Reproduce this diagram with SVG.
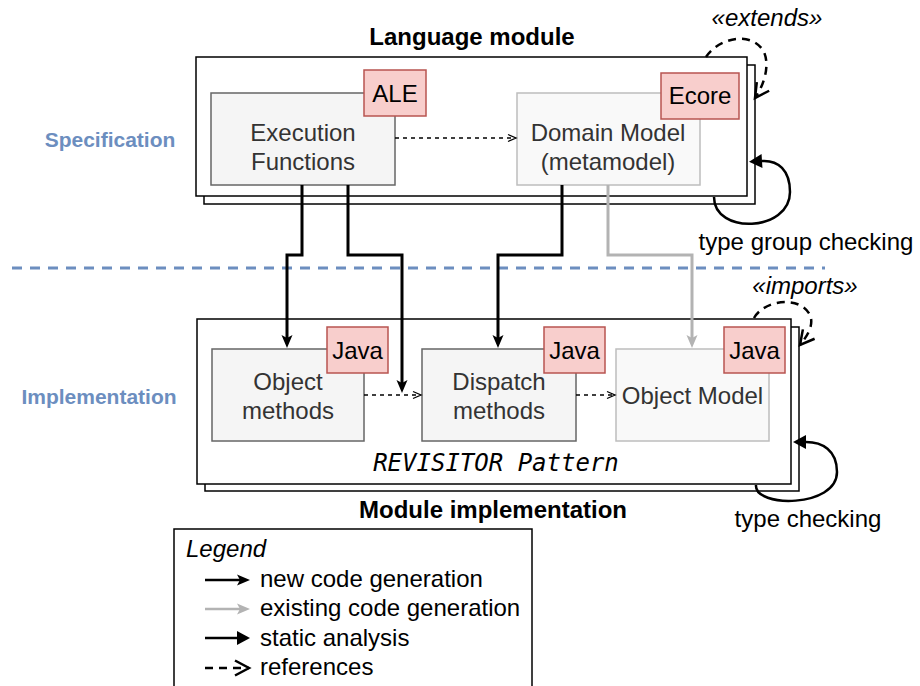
<svg xmlns="http://www.w3.org/2000/svg" width="920" height="686" viewBox="0 0 920 686">
<defs>
<style>
text{font-family:"Liberation Sans",Arial,Helvetica,sans-serif;font-size:24px;}
.title{font-weight:bold;text-anchor:middle;fill:#000;}
.side{font-weight:bold;font-size:21px;fill:#6c8ebf;text-anchor:middle;}
.lbl{text-anchor:middle;fill:#333;}
.tagt{text-anchor:middle;fill:#000;}
.it{font-style:italic;text-anchor:middle;fill:#000;}
.plain{text-anchor:middle;fill:#000;}
.mod{fill:#fff;stroke:#000;stroke-width:1.5;}
.box{fill:#f5f5f5;stroke:#666;stroke-width:1.5;}
.lbox{fill:#f9f9f9;stroke:#bdbdbd;stroke-width:1.5;}
.tag{fill:#f8cecc;stroke:#b85450;stroke-width:1.5;}
.gen{fill:none;stroke:#000;stroke-width:3;}
.egen{fill:none;stroke:#b3b3b3;stroke-width:3;}
.ref{fill:none;stroke:#000;stroke-width:1.5;stroke-dasharray:4 4;}
.loop{fill:none;stroke:#000;stroke-width:2.5;}
.dloop{fill:none;stroke:#000;stroke-width:2.5;stroke-dasharray:8 6;}
.legt{text-anchor:start;fill:#000;}
</style>
<marker id="cls" markerUnits="userSpaceOnUse" viewBox="-8 -8 20 16" refX="0" refY="0" markerWidth="20" markerHeight="16" orient="auto">
<path d="M-5,-5.5 L8,0 L-5,5.5 L-2,0 Z" fill="#000"/>
</marker>
<marker id="clsg" markerUnits="userSpaceOnUse" viewBox="-8 -8 20 16" refX="0" refY="0" markerWidth="20" markerHeight="16" orient="auto">
<path d="M-5,-5.5 L8,0 L-5,5.5 L-2,0 Z" fill="#b3b3b3"/>
</marker>
<marker id="opn" markerUnits="userSpaceOnUse" viewBox="-10 -6 14 12" refX="0" refY="0" markerWidth="14" markerHeight="12" orient="auto">
<path d="M-7,-3.5 L1,0 L-7,3.5" fill="none" stroke="#000" stroke-width="1.3"/>
</marker>
<marker id="blk" markerUnits="userSpaceOnUse" viewBox="-4 -9 20 18" refX="0" refY="0" markerWidth="20" markerHeight="18" orient="auto">
<path d="M0,-7 L13,0 L0,7 Z" fill="#000"/>
</marker>
<marker id="vopn" markerUnits="userSpaceOnUse" viewBox="-16 -10 20 20" refX="0" refY="0" markerWidth="20" markerHeight="20" orient="auto">
<path d="M-14,-7.5 L0,0 L-14,7.5" fill="none" stroke="#000" stroke-width="2.5"/>
</marker>
</defs>

<g id="separator">
<line x1="12" y1="268" x2="825" y2="268" stroke="#6c8ebf" stroke-width="3" stroke-dasharray="10 8"/>
</g>

<g id="side-labels">
<text class="side" x="110" y="147">Specification</text>
<text class="side" x="99" y="404">Implementation</text>
</g>

<g id="language-module">
<rect class="mod" x="204" y="65" width="551" height="139"/>
<rect class="mod" x="196" y="57" width="551" height="139"/>
<text class="title" x="472" y="45">Language module</text>
</g>

<g id="module-implementation">
<rect class="mod" x="205" y="327" width="594" height="164"/>
<rect class="mod" x="197" y="319" width="594" height="165"/>
<text class="title" x="493" y="518">Module implementation</text>
<text x="496" y="471" style="font-family:'DejaVu Sans Mono','Liberation Mono',monospace;font-style:italic;font-size:24px;text-anchor:middle;fill:#000;">REVISITOR Pattern</text>
</g>

<g id="execution-functions">
<rect class="box" x="211" y="93" width="184" height="92"/>
<text class="lbl" x="303" y="141">Execution</text>
<text class="lbl" x="303" y="170">Functions</text>
<rect class="tag" x="364" y="70" width="62" height="46"/>
<text class="tagt" x="395" y="102">ALE</text>
</g>

<g id="domain-model">
<rect class="lbox" x="517" y="93" width="183" height="92"/>
<text class="lbl" x="608" y="141">Domain Model</text>
<text class="lbl" x="608" y="170">(metamodel)</text>
<rect class="tag" x="661" y="73" width="78" height="46"/>
<text class="tagt" x="700" y="104">Ecore</text>
</g>

<g id="object-methods">
<rect class="box" x="212" y="349" width="152" height="92"/>
<text class="lbl" x="288" y="390">Object</text>
<text class="lbl" x="288" y="419">methods</text>
<rect class="tag" x="327" y="327" width="61" height="46"/>
<text class="tagt" x="357.5" y="359">Java</text>
</g>

<g id="dispatch-methods">
<rect class="box" x="422" y="349" width="154" height="92"/>
<text class="lbl" x="499" y="390">Dispatch</text>
<text class="lbl" x="499" y="419">methods</text>
<rect class="tag" x="544" y="327" width="61" height="46"/>
<text class="tagt" x="574.5" y="359">Java</text>
</g>

<g id="object-model">
<rect class="lbox" x="616" y="349" width="153" height="92"/>
<text class="lbl" x="692.5" y="404">Object Model</text>
<rect class="tag" x="724" y="327" width="61" height="46"/>
<text class="tagt" x="754.5" y="359">Java</text>
</g>

<g id="connectors">
<path class="gen" d="M302,185 V255 H287 V340" marker-end="url(#cls)"/>
<path class="gen" d="M348,185 V255 H402 V385" marker-end="url(#cls)"/>
<path class="gen" d="M562,185 V255 H498 V340" marker-end="url(#cls)"/>
<path class="egen" d="M608,185 V255 H692 V340" marker-end="url(#clsg)"/>
<path class="ref" d="M395,138 H515" marker-end="url(#opn)"/>
<path class="ref" d="M364,395 H420" marker-end="url(#opn)"/>
<path class="ref" d="M576,395 H614" marker-end="url(#opn)"/>
<path class="dloop" d="M706,57 C718,38 752,30 764,52 C770,66 764,85 755,98" marker-end="url(#vopn)"/>
<path class="loop" d="M714,197 C714,235 790,232 790,192 C790,170 778,160 762,161" marker-end="url(#blk)"/>
<path class="dloop" d="M754,318 C764,300 800,295 810,315 C814,325 808,335 800,345" marker-end="url(#vopn)"/>
<path class="loop" d="M756,485 C754,508 837,508 837,472 C837,450 822,442 806,442" marker-end="url(#blk)"/>
</g>

<g id="loop-labels">
<text class="it" x="767" y="26">«extends»</text>
<text class="plain" x="806" y="250">type group checking</text>
<text class="it" x="805" y="294">«imports»</text>
<text class="plain" x="808" y="527">type checking</text>
</g>

<g id="legend">
<rect x="174" y="529" width="358" height="170" fill="#fff" stroke="#000" stroke-width="1.5"/>
<text x="186" y="557" style="font-style:italic;fill:#000;">Legend</text>
<line x1="205" y1="580" x2="242" y2="580" stroke="#000" stroke-width="2.5" marker-end="url(#cls)"/>
<text class="legt" x="260" y="587">new code generation</text>
<line x1="205" y1="609" x2="242" y2="609" stroke="#b3b3b3" stroke-width="2.5" marker-end="url(#clsg)"/>
<text class="legt" x="260" y="616">existing code generation</text>
<line x1="205" y1="638" x2="237" y2="638" stroke="#000" stroke-width="2.5" marker-end="url(#blk)"/>
<text class="legt" x="260" y="646">static analysis</text>
<path class="dloop" d="M205,668 H249" marker-end="url(#vopn)"/>
<text class="legt" x="260" y="675">references</text>
</g>
</svg>
